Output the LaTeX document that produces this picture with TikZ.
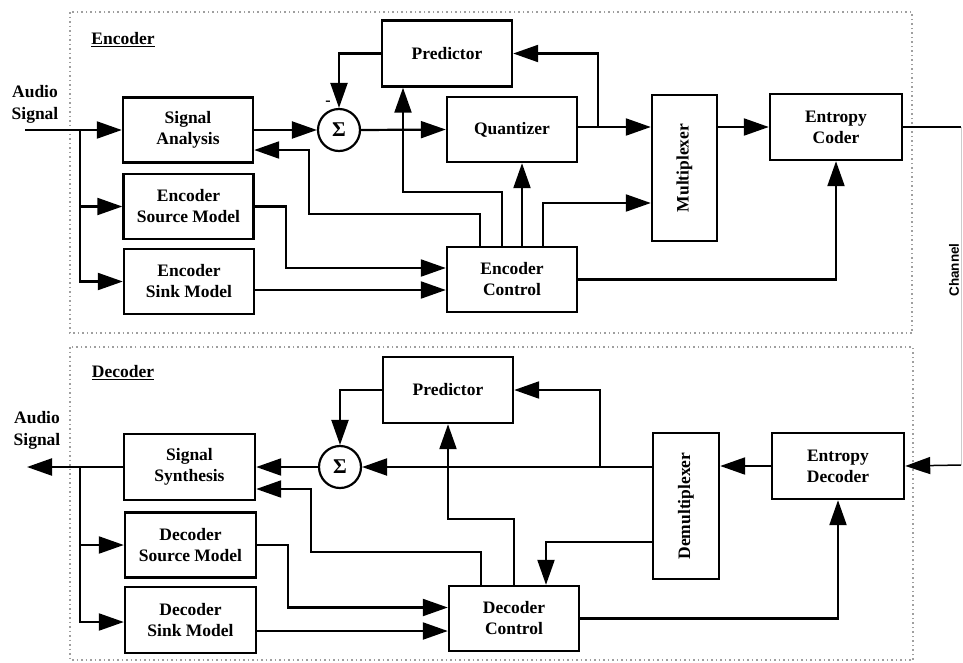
\documentclass[tikz,border=0pt]{standalone}
\usepackage{fontspec}
\setmainfont{Liberation Serif}
\newfontfamily\chanfont{Liberation Sans}
\usetikzlibrary{arrows.meta,calc}

\tikzset{
  blk/.style={draw, line width=2.4pt, minimum width=130pt, minimum height=65pt,
    align=center, inner sep=0pt, font=\fontsize{17.5}{21}\selectfont\bfseries},
  sumnode/.style={draw, circle, line width=2.2pt, minimum size=42pt, inner sep=0pt,
    font=\fontsize{21}{21}\selectfont\bfseries},
  lbl/.style={align=center, inner sep=0pt, font=\fontsize{17.5}{22}\selectfont\bfseries},
  arr/.style={-{Triangle[length=25pt,width=17pt]}},
  frame/.style={draw=gray!75, line width=1.3pt, dash pattern=on 1.5pt off 3pt},
  chan/.style={line width=1.5pt}
}

\begin{document}
\begin{tikzpicture}[x=1pt, y=-1pt, line width=2.2pt]
\useasboundingbox (0,0) rectangle (963,662);

% frames
\draw[frame] (70,12) rectangle (912,333);
\draw[frame] (70,347) rectangle (913,660);
\node[lbl] (enctitle) at (123,40) {\underline{Encoder}};
\node[lbl] (dectitle) at (123,373) {\underline{Decoder}};

% encoder blocks
\node[blk] (sa) at (188,130) {Signal\\Analysis};
\node[blk] (esm) at (188.5,206.5) {Encoder\\Source Model};
\node[blk] (esk) at (189,281.5) {Encoder\\Sink Model};
\node[sumnode] (sum1) at (339,130) {Σ};
\node[blk, minimum height=66pt] (pr1) at (447,53.5) {Predictor};
\node[blk] (qz) at (512,129.5) {Quantizer};
\node[blk, minimum width=65pt, minimum height=146pt] (mux) at (684.5,168) {\rotatebox{90}{Multiplexer}};
\node[blk, minimum width=132pt, minimum height=66pt] (ec) at (836,127) {Entropy\\Coder};
\node[blk] (ectl) at (512,279.5) {Encoder\\Control};

% decoder blocks
\node[blk, minimum width=131pt, minimum height=66pt] (ss) at (189.5,467) {Signal\\Synthesis};
\node[blk, minimum width=131pt] (dsm) at (190.5,545) {Decoder\\Source Model};
\node[blk, minimum width=131pt, minimum height=66pt] (dsk) at (190.5,620) {Decoder\\Sink Model};
\node[sumnode] (sum2) at (340,467) {Σ};
\node[blk, minimum height=66pt] (pr2) at (448,390) {Predictor};
\node[blk, minimum width=66pt, minimum height=146pt] (dmx) at (686,506) {\rotatebox{90}{Demultiplexer}};
\node[blk, minimum width=132pt, minimum height=66pt] (ed) at (838,466) {Entropy\\Decoder};
\node[blk] (dctl) at (514,618.5) {Decoder\\Control};

% audio signal and channel
\node[lbl] (ain) at (35,104) {Audio\\Signal};
\node[lbl] (aoutlbl) at (37,430) {Audio\\Signal};
\node[rotate=90, inner sep=0pt, font=\chanfont\fontsize{13.5}{15}\selectfont\bfseries] (chlbl) at (954,270) {Channel};
\coordinate (ain0) at (25,130);
\coordinate (br1) at (80,130);
\coordinate (aout) at (27,467);
\coordinate (br2) at (80,467);
\coordinate (chtop) at (961,127);
\coordinate (chbot) at (961,465);

% encoder connections
\draw[arr] (ain0) -- (sa.west);
\draw[arr] (br1) |- (esm.west);
\draw[arr] (br1) |- (esk.west);
\draw[arr] (sa.east) -- (sum1.west);
\draw[arr] (pr1.west) -| (sum1.north);
\node[inner sep=0pt, font=\fontsize{16}{16}\selectfont\bfseries] (minus1) at (328,103) {-};
\draw[arr] (sum1.east) -- (qz.west);
\draw[arr] ($(qz.east)+(0,-2.5)$) -- ($(mux.west)+(0,-41)$);
\draw[arr] ($(qz.east)+(20,-2.5)$) |- (pr1.east);
\draw[arr] (mux.east |- ec.west) -- (ec.west);
\draw[arr] (esm.east) -- ++(31,0) |- ($(ectl.west)+(0,-11.5)$);
\draw[arr] ($(esk.east)+(0,8.5)$) -- ($(ectl.west)+(0,10.5)$);
\draw[arr] ($(ectl.north)+(-32,0)$) -- ++(0,-32) -| ($(sa.east)+(55,20)$) -- ($(sa.east)+(0,20)$);
\draw[arr] ($(ectl.north)+(-10,0)$) -- ++(0,-54) -| ($(pr1.south)+(-44,0)$);
\draw[arr] ($(ectl.north)+(10,0)$) -- ($(qz.south)+(10,0)$);
\draw[arr] ($(ectl.north)+(31,0)$) |- ($(mux.west)+(0,35)$);
\draw[arr] (ectl.east) -| (ec.south);

% channel
\draw[chan] (ec.east) -- (chtop);
\draw[gray!40, line width=1pt] (chtop) -- (chbot);
\draw[chan, arr] (chbot) -- (ed.east);

% decoder connections
\draw[arr] (ss.west) -- (aout);
\draw[arr] (br2) |- (dsm.west);
\draw[arr] (br2) |- ($(dsk.west)+(0,2)$);
\draw[arr] (sum2.west) -- (ss.east);
\draw[arr] (pr2.west) -| (sum2.north);
\draw[arr] (dmx.west |- sum2.east) -- (sum2.east);
\draw[arr] ($(sum2.east)+(238,0)$) |- (pr2.east);
\draw[arr] (ed.west) -- (ed.west -| dmx.east);
\draw[arr] ($(dmx.west)+(0,36)$) -| ($(dctl.north)+(32,0)$);
\draw[arr] ($(dctl.north)+(-33,0)$) -- ++(0,-33) -| ($(ss.east)+(55,22)$) -- ($(ss.east)+(0,22)$);
\draw[arr] (dctl.north) -- ++(0,-66) -| (pr2.south);
\draw[arr] (dctl.east) -| (ed.south);
\draw[arr] (dsm.east) -- ++(31,0) |- ($(dctl.west)+(0,-11)$);
\draw[arr] ($(dsk.east)+(0,11)$) -- ($(dctl.west)+(0,12.5)$);
\end{tikzpicture}
\end{document}
